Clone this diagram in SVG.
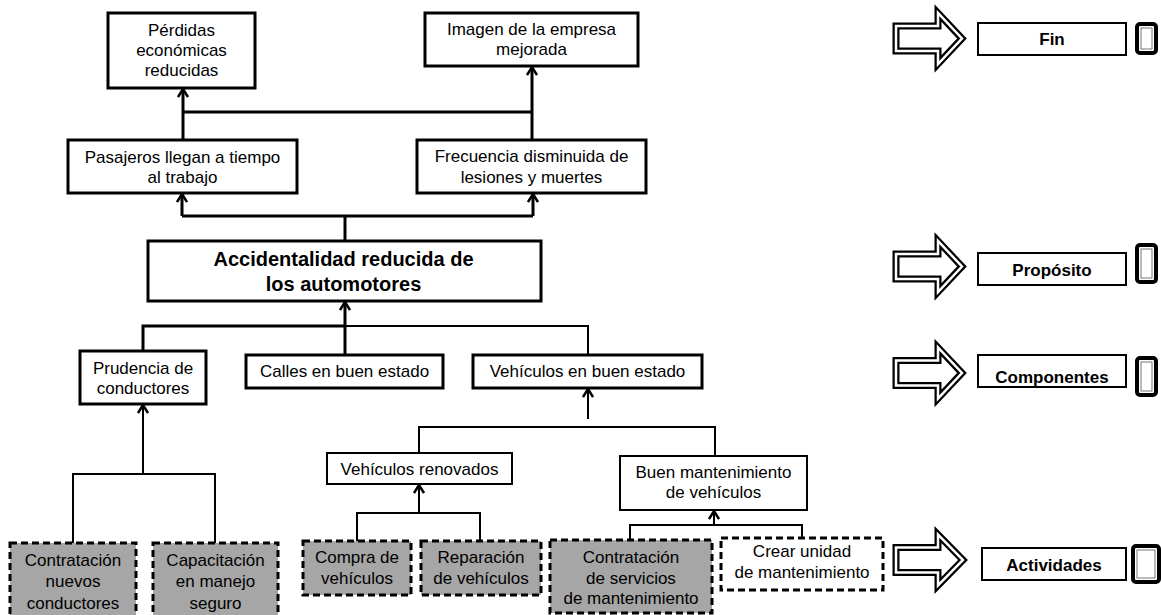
<svg xmlns="http://www.w3.org/2000/svg" width="1161" height="615" viewBox="0 0 1161 615">
  <style>
    text { font-family: "Liberation Sans", Arial, sans-serif; fill: #000; text-anchor: middle; }
    .t { font-size: 17px; }
    .tb { font-size: 20px; font-weight: bold; }
    .lbl { font-size: 17px; font-weight: bold; }
    .box { fill: #fff; stroke: #000; stroke-width: 3; }
    .box2 { fill: #fff; stroke: #000; stroke-width: 2; }
    .act { fill: #a6a6a6; stroke: #000; stroke-width: 3; stroke-dasharray: 7 4; }
    .actw { fill: #fff; stroke: #000; stroke-width: 3; stroke-dasharray: 7 4; }
    .c3 { fill: none; stroke: #000; stroke-width: 3; }
    .c2 { fill: none; stroke: #000; stroke-width: 2; }
    .blk-o { fill: #fff; stroke: #000; stroke-width: 7; stroke-linejoin: miter; }
    .blk-i { fill: none; stroke: #fff; stroke-width: 2.5; stroke-linejoin: miter; }
    .lblbox { fill: #fff; stroke: #000; stroke-width: 2; }
    .tab-o { fill: #fff; stroke: #000; stroke-width: 4; }
    .tab-i { fill: none; stroke: #777; stroke-width: 1; }
  </style>
  <defs>
    <marker id="open" viewBox="0 0 10 12" refX="9" refY="6" markerWidth="10" markerHeight="12" markerUnits="userSpaceOnUse" orient="auto">
      <path d="M1,1 L9,6 L1,11" fill="none" stroke="#000" stroke-width="2.5"/>
    </marker>
  </defs>

  <!-- connectors -->
  <g id="connectors">
    <path class="c3" d="M183,140 V89" marker-end="url(#open)"/>
    <path class="c3" d="M183,112 H532"/>
    <path class="c3" d="M532,140 V67" marker-end="url(#open)"/>
    <path class="c3" d="M345,241 V216"/>
    <path class="c3" d="M182,216 H533"/>
    <path class="c3" d="M182,216 V194" marker-end="url(#open)"/>
    <path class="c3" d="M533,216 V194" marker-end="url(#open)"/>
    <path class="c3" d="M345,355 V302" marker-end="url(#open)"/>
    <path class="c3" d="M143,351 V326 H345"/>
    <path class="c2" d="M345,326 H588 V355"/>
    <path class="c2" d="M143,474 V405" marker-end="url(#open)"/>
    <path class="c2" d="M73,543 V474 H215 V543"/>
    <path class="c2" d="M588,419 V389" marker-end="url(#open)"/>
    <path class="c2" d="M419,453 V427 H715 V456"/>
    <path class="c2" d="M419,513 V485" marker-end="url(#open)"/>
    <path class="c2" d="M357,541 V513 H480 V541"/>
    <path class="c2" d="M714,525 V511" marker-end="url(#open)"/>
    <path class="c2" d="M630,540 V525 H802 V538"/>
  </g>

  <!-- Fin level -->
  <g id="n-perdidas">
    <rect class="box" x="108" y="13" width="147" height="75"/>
    <text class="t" x="181.5" y="36">Pérdidas</text>
    <text class="t" x="181.5" y="56">económicas</text>
    <text class="t" x="181.5" y="76">reducidas</text>
  </g>
  <g id="n-imagen">
    <rect class="box" x="425" y="13" width="213" height="53"/>
    <text class="t" x="531.5" y="35">Imagen de la empresa</text>
    <text class="t" x="531.5" y="55">mejorada</text>
  </g>
  <g id="n-pasajeros">
    <rect class="box" x="68" y="140" width="229" height="53"/>
    <text class="t" x="182.5" y="163">Pasajeros llegan a tiempo</text>
    <text class="t" x="182.5" y="183">al trabajo</text>
  </g>
  <g id="n-frecuencia">
    <rect class="box" x="417" y="140" width="229" height="53"/>
    <text class="t" x="531.5" y="162">Frecuencia disminuida de</text>
    <text class="t" x="531.5" y="183">lesiones y muertes</text>
  </g>

  <!-- Propósito -->
  <g id="n-accidentalidad">
    <rect class="box" x="148" y="241" width="393" height="60"/>
    <text class="tb" x="343.5" y="266">Accidentalidad reducida de</text>
    <text class="tb" x="343.5" y="291">los automotores</text>
  </g>

  <!-- Componentes -->
  <g id="n-prudencia">
    <rect class="box" x="80" y="351" width="126" height="53"/>
    <text class="t" x="143" y="374">Prudencia de</text>
    <text class="t" x="143" y="394">conductores</text>
  </g>
  <g id="n-calles">
    <rect class="box" x="246" y="355" width="197" height="33"/>
    <text class="t" x="344.5" y="377">Calles en buen estado</text>
  </g>
  <g id="n-vehiculos">
    <rect class="box" x="473" y="355" width="229" height="33"/>
    <text class="t" x="587.5" y="377">Vehículos en buen estado</text>
  </g>
  <g id="n-renovados">
    <rect class="box2" x="327" y="453" width="185" height="31"/>
    <text class="t" x="419.5" y="475">Vehículos renovados</text>
  </g>
  <g id="n-mantenimiento">
    <rect class="box2" x="620" y="456" width="187" height="54"/>
    <text class="t" x="713.5" y="478">Buen mantenimiento</text>
    <text class="t" x="713.5" y="498">de vehículos</text>
  </g>

  <!-- Actividades -->
  <g id="n-contratacion-conductores">
    <rect class="act" x="10" y="543" width="126" height="80"/>
    <text class="t" x="73" y="566">Contratación</text>
    <text class="t" x="73" y="587">nuevos</text>
    <text class="t" x="73" y="609">conductores</text>
  </g>
  <g id="n-capacitacion">
    <rect class="act" x="153" y="543" width="125" height="80"/>
    <text class="t" x="215.5" y="566">Capacitación</text>
    <text class="t" x="215.5" y="587">en manejo</text>
    <text class="t" x="215.5" y="609">seguro</text>
  </g>
  <g id="n-compra">
    <rect class="act" x="303" y="541" width="108" height="54"/>
    <text class="t" x="357" y="563">Compra de</text>
    <text class="t" x="357" y="584">vehículos</text>
  </g>
  <g id="n-reparacion">
    <rect class="act" x="421" y="541" width="120" height="54"/>
    <text class="t" x="481" y="563">Reparación</text>
    <text class="t" x="481" y="584">de vehículos</text>
  </g>
  <g id="n-contratacion-servicios">
    <rect class="act" x="550" y="540" width="162" height="73"/>
    <text class="t" x="631" y="563">Contratación</text>
    <text class="t" x="631" y="584">de servicios</text>
    <text class="t" x="631" y="604">de mantenimiento</text>
  </g>
  <g id="n-crear-unidad">
    <rect class="actw" x="721" y="538" width="162" height="52"/>
    <text class="t" x="802" y="557">Crear unidad</text>
    <text class="t" x="802" y="578">de mantenimiento</text>
  </g>

  <!-- level legend -->
  <g id="lvl-fin">
    <path class="blk-o" d="M896,26 H938 V13 L962,38.5 L938,64 V51 H896 Z"/>
    <path class="blk-i" d="M896,26 H938 V13 L962,38.5 L938,64 V51 H896 Z"/>
    <rect class="lblbox" x="978" y="23" width="148" height="32"/>
    <text class="lbl" x="1052" y="45">Fin</text>
    <rect class="tab-o" x="1137" y="24" width="19" height="29" rx="3"/>
    <rect class="tab-i" x="1141" y="28" width="11" height="21"/>
  </g>
  <g id="lvl-proposito">
    <path class="blk-o" d="M896,254 H938 V241 L962,266.5 L938,292 V279 H896 Z"/>
    <path class="blk-i" d="M896,254 H938 V241 L962,266.5 L938,292 V279 H896 Z"/>
    <rect class="lblbox" x="978" y="253" width="148" height="32"/>
    <text class="lbl" x="1052" y="276">Propósito</text>
    <rect class="tab-o" x="1137" y="245" width="19" height="37" rx="3"/>
    <rect class="tab-i" x="1141" y="249" width="11" height="29"/>
  </g>
  <g id="lvl-componentes">
    <path class="blk-o" d="M896,360.5 H938 V347.5 L962,373 L938,398.5 V385.5 H896 Z"/>
    <path class="blk-i" d="M896,360.5 H938 V347.5 L962,373 L938,398.5 V385.5 H896 Z"/>
    <rect class="lblbox" x="978" y="355" width="148" height="32"/>
    <text class="lbl" x="1052" y="383">Componentes</text>
    <rect class="tab-o" x="1137" y="358" width="19" height="37" rx="3"/>
    <rect class="tab-i" x="1141" y="362" width="11" height="29"/>
  </g>
  <g id="lvl-actividades">
    <path class="blk-o" d="M896,547.5 H938 V534.5 L963,560 L938,585.5 V572.5 H896 Z"/>
    <path class="blk-i" d="M896,547.5 H938 V534.5 L963,560 L938,585.5 V572.5 H896 Z"/>
    <rect class="lblbox" x="982" y="548" width="144" height="32"/>
    <text class="lbl" x="1054" y="571">Actividades</text>
    <rect class="tab-o" x="1133" y="546" width="26" height="36" rx="3"/>
    <rect class="tab-i" x="1137" y="550" width="18" height="28"/>
  </g>
</svg>
